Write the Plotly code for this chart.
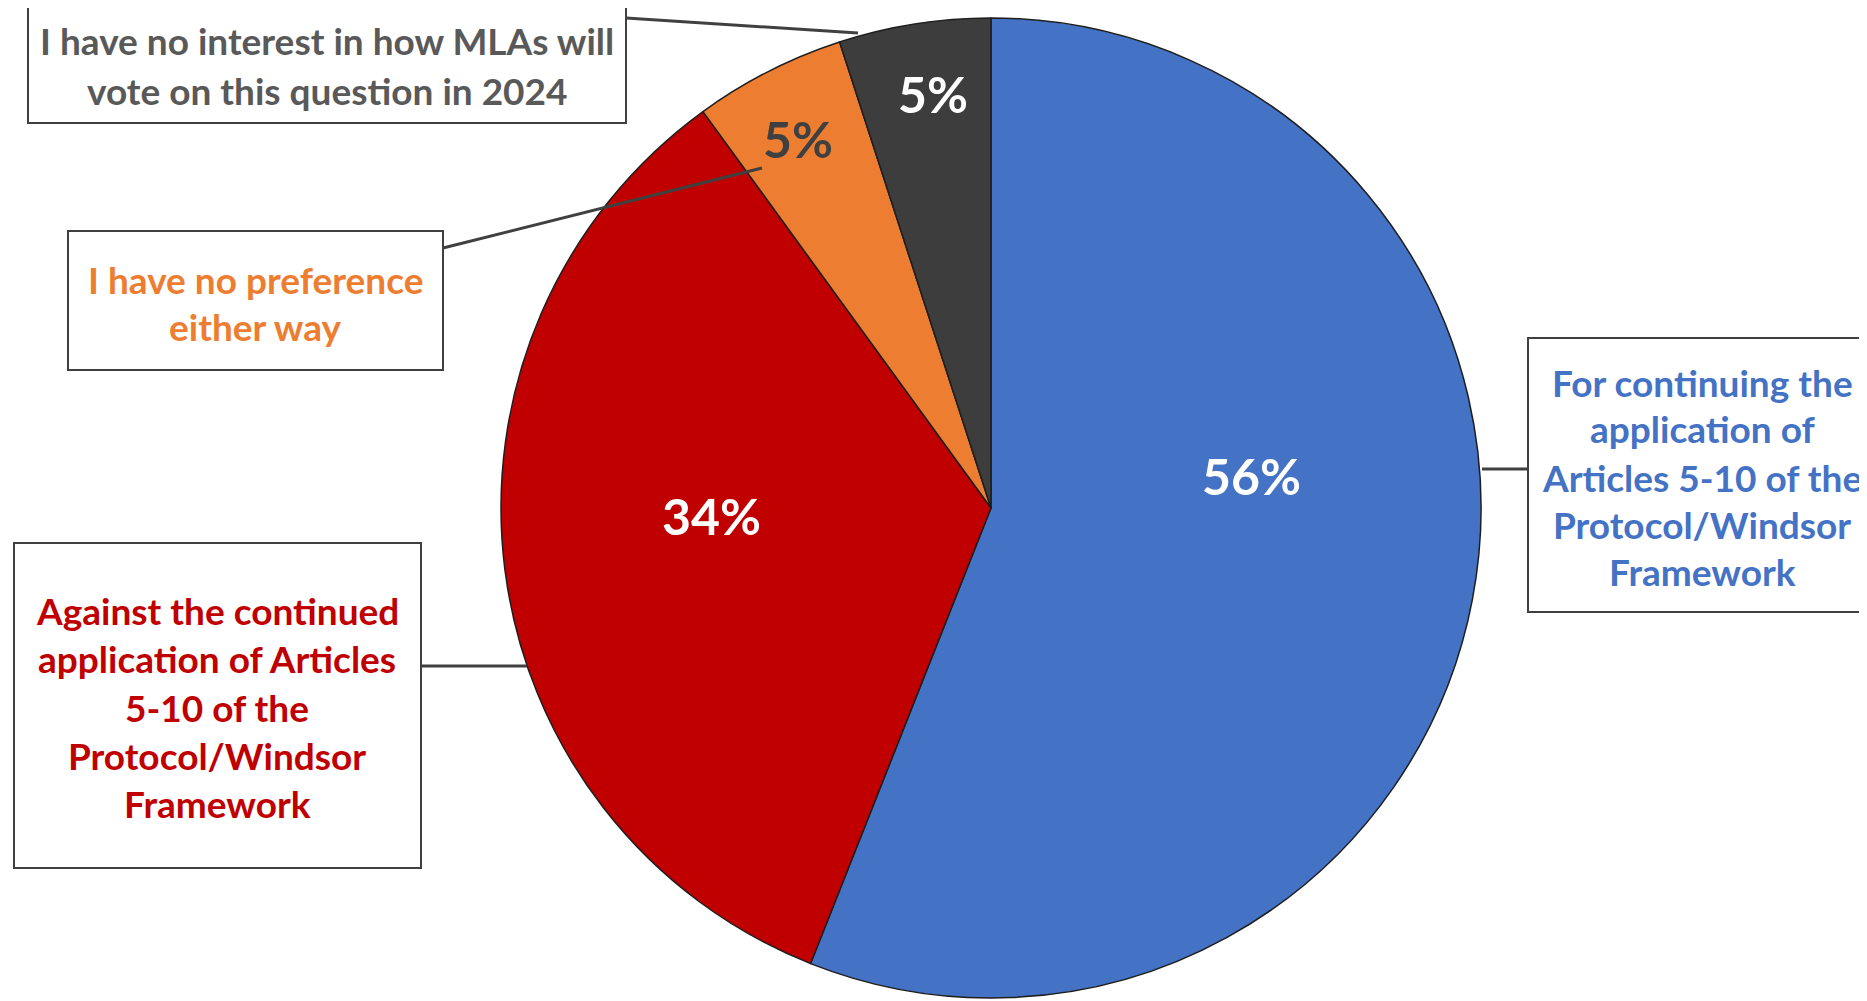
import plotly.graph_objects as go

W, H = 1867, 1001
OFF = 8  # page body margin offset compensation

# ---- data ----
categories = [
    "For continuing the application of Articles 5-10 of the Protocol/Windsor Framework",
    "Against the continued application of Articles 5-10 of the Protocol/Windsor Framework",
    "I have no preference either way",
    "I have no interest in how MLAs will vote on this question in 2024",
]
values = [56, 34, 5, 5]
slice_colors = ["#4472C4", "#C00000", "#ED7D31", "#3D3D3D"]
label_lines = [
    ["For continuing the", "application of", "Articles 5-10 of the", "Protocol/Windsor", "Framework"],
    ["Against the continued", "application of Articles", "5-10 of the", "Protocol/Windsor", "Framework"],
    ["I have no preference", "either way"],
    ["I have no interest in how MLAs will", "vote on this question in 2024"],
]
label_text_colors = ["#4472C4", "#C00000", "#ED7D31", "#595959"]
pct_text_colors = ["white", "white", "#404040", "white"]

# ---- layout helpers (pixel -> paper) ----
def fx(px):
    return (px - OFF) / W

def fy(py):
    return 1 - (py - OFF) / H

FONT = "Lato"

fig = go.Figure()
fig.add_trace(go.Pie(
    labels=categories,
    values=values,
    sort=False,
    direction="clockwise",
    rotation=0,
    marker=dict(colors=slice_colors, line=dict(color="#1e1e1e", width=1.5)),
    textinfo="none",
    hoverinfo="label+percent",
    showlegend=False,
    domain=dict(x=[fx(500), fx(1482)], y=[fy(998), fy(18)]),
))

# percentage labels (positions in pixels)
pct_pos = [(1251, 476), (711, 516), (798, 139), (933, 94)]
for v, (x, y), c in zip(values, pct_pos, pct_text_colors):
    fig.add_annotation(x=fx(x), y=fy(y), xref="paper", yref="paper",
                       text=f"{v}%", showarrow=False,
                       font=dict(family=FONT, size=50, color=c, weight="bold"),
                       xanchor="center", yanchor="middle")

# callout boxes: (x0, y0, x1, y1), text line centres, text centre x, leader line
boxes = [
    dict(rect=(1528, 338, 1880, 612), cx=1702, ys=[382, 428, 477, 524, 571],
         line=((1482, 469), (1528, 469))),
    dict(rect=(14, 543, 421, 868), cx=217, ys=[610, 658, 707, 755, 803],
         line=((421, 666), (527, 666))),
    dict(rect=(68, 231, 443, 370), cx=255, ys=[279, 326],
         line=((443, 248), (762, 168))),
    dict(rect=(28, 6, 626, 123), cx=327, ys=[41, 90],
         line=((626, 18), (858, 33))),
]

for b, lines, tc in zip(boxes, label_lines, label_text_colors):
    x0, y0, x1, y1 = b["rect"]
    fig.add_shape(type="rect", xref="paper", yref="paper",
                  x0=fx(x0), x1=fx(x1), y0=fy(y1), y1=fy(y0),
                  line=dict(color="#404040", width=2), fillcolor="white", layer="above")
    (lx0, ly0), (lx1, ly1) = b["line"]
    fig.add_shape(type="line", xref="paper", yref="paper",
                  x0=fx(lx0), y0=fy(ly0), x1=fx(lx1), y1=fy(ly1),
                  line=dict(color="#404040", width=3), layer="above")
    for t, yy in zip(lines, b["ys"]):
        fig.add_annotation(x=fx(b["cx"]), y=fy(yy), xref="paper", yref="paper",
                           text=t, showarrow=False,
                           font=dict(family=FONT, size=37, color=tc, weight="bold"),
                           xanchor="center", yanchor="middle")

fig.update_layout(
    width=W, height=H,
    margin=dict(l=0, r=0, t=0, b=0),
    paper_bgcolor="white",
    plot_bgcolor="white",
)

fig.write_html("out.html")
